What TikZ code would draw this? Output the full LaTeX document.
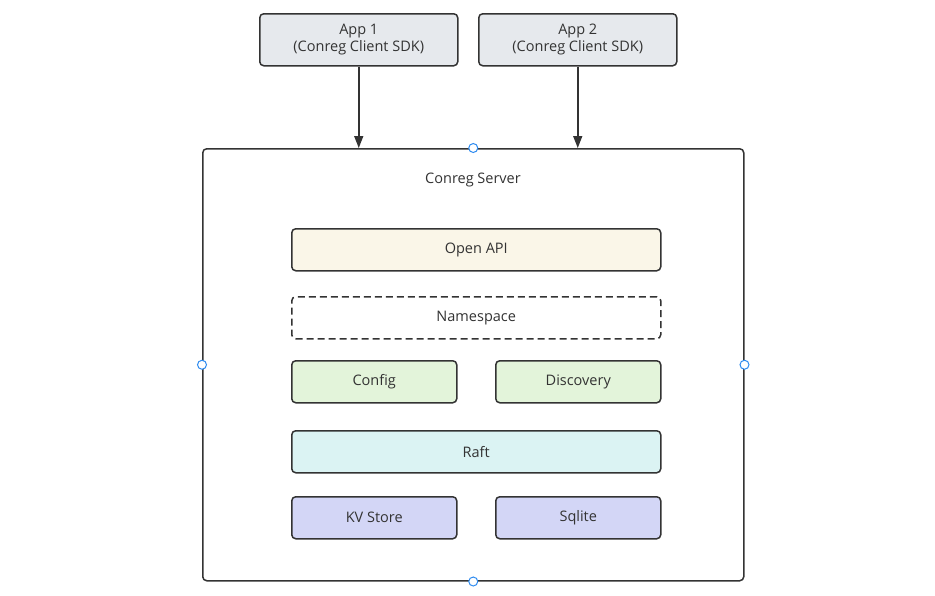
\documentclass[tikz,border=0pt]{standalone}
\usepackage{fontspec}
\setmainfont{Open Sans}
\usetikzlibrary{arrows.meta}
\definecolor{linec}{HTML}{333333}
\definecolor{textc}{HTML}{333333}
\definecolor{appfill}{HTML}{E6E9ED}
\definecolor{apifill}{HTML}{FAF6E8}
\definecolor{cfgfill}{HTML}{E3F4DA}
\definecolor{raftfill}{HTML}{DBF3F3}
\definecolor{storefill}{HTML}{D3D6F6}
\definecolor{handlec}{HTML}{2E8BF0}
\tikzset{
  x=1pt, y=-1pt,
  box/.style={draw=linec, line width=1.5pt, rounded corners=4pt, inner sep=0pt,
    text=textc, font=\fontsize{14.5}{17}\selectfont, align=center, anchor=north west},
  handle/.style={circle, draw=handlec, fill=white, line width=1pt, minimum size=9pt, inner sep=0pt},
  conn/.style={draw=linec, line width=1.5pt, -{Triangle[length=12pt,width=9pt]}}
}
\begin{document}
\begin{tikzpicture}
\useasboundingbox (0,0) rectangle (935,595);
\node[box, fill=appfill, minimum width=198pt, minimum height=52pt] (app1) at (259,13) {App 1\\(Conreg Client SDK)};
\node[box, fill=appfill, minimum width=198pt, minimum height=52pt] (app2) at (478,13) {App 2\\(Conreg Client SDK)};
\node[box, fill=white, minimum width=541pt, minimum height=432pt] (server) at (202,148) {};
\node[text=textc, font=\fontsize{14.5}{17}\selectfont] (title) at (473,180) {Conreg Server};
\node[box, fill=apifill, minimum width=369pt, minimum height=42pt] (api) at (291,228) {Open API};
\node[box, dashed, dash pattern=on 7pt off 4pt, fill=white, minimum width=369pt, minimum height=42pt] (ns) at (291,296) {Namespace};
\node[box, fill=cfgfill, minimum width=165pt, minimum height=42pt] (cfg) at (291,360) {Config};
\node[box, fill=cfgfill, minimum width=165pt, minimum height=42pt] (disc) at (495,360) {Discovery};
\node[box, fill=raftfill, minimum width=369pt, minimum height=42pt] (raft) at (291,430) {Raft};
\node[box, fill=storefill, minimum width=165pt, minimum height=42pt] (kv) at (291,496) {KV Store};
\node[box, fill=storefill, minimum width=165pt, minimum height=42pt] (sql) at (495,496) {Sqlite};
\coordinate (t1) at (app1.south |- server.north);
\coordinate (t2) at (app2.south |- server.north);
\draw[conn] (app1.south) -- (t1);
\draw[conn] (app2.south) -- (t2);
\node[handle] (h1) at (server.north) {};
\node[handle] (h2) at (server.south) {};
\node[handle] (h3) at (server.west) {};
\node[handle] (h4) at (server.east) {};
\end{tikzpicture}
\end{document}
